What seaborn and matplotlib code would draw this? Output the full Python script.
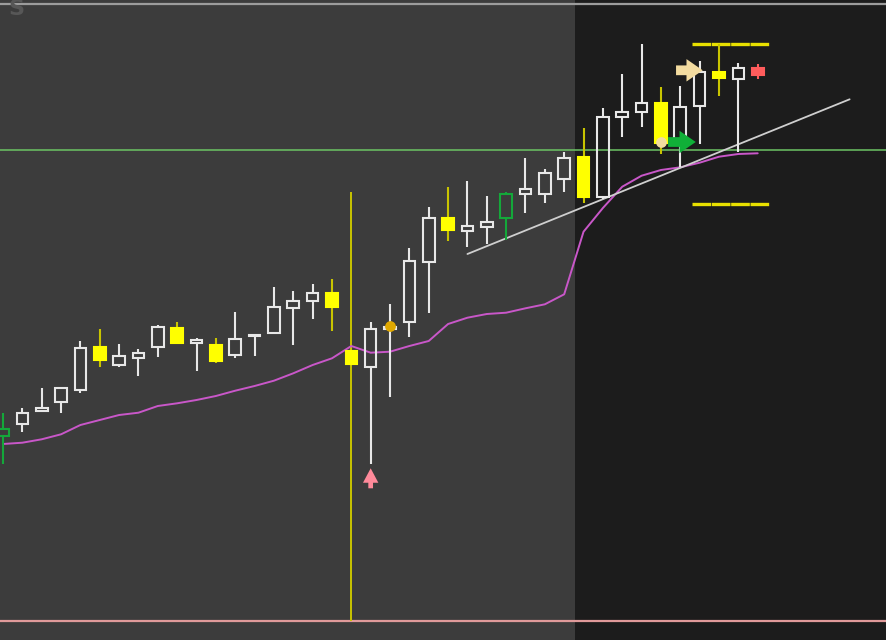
import matplotlib
matplotlib.use("Agg")
import matplotlib.pyplot as plt
import seaborn as sns
import pandas as pd

# OHLC candles (arbitrary price units)
opens = [20.43, 21.57, 22.93, 23.77, 25.03, 29.33, 27.53, 28.17, 29.27, 31.23,
         29.67, 29.47, 28.53, 30.40, 30.67, 33.17, 33.90, 34.73, 28.90, 27.27,
         31.07, 31.77, 37.77, 42.23, 40.93, 41.27, 42.17, 44.57, 44.57, 46.07,
         48.33, 44.33, 52.27, 52.83, 53.73, 49.70, 53.40, 56.83, 56.07, 57.17]
highs = [22.70, 23.23, 25.23, 25.33, 29.90, 31.07, 29.57, 29.07, 31.50, 31.83,
         30.23, 30.23, 32.83, 30.50, 35.33, 34.93, 35.60, 36.07, 29.20, 31.77,
         33.57, 39.17, 43.27, 45.33, 45.93, 44.43, 44.77, 48.17, 47.07, 48.80,
         51.17, 53.17, 56.57, 59.57, 55.33, 55.40, 57.93, 59.57, 57.67, 57.57]
lows = [17.60, 20.80, 22.93, 22.67, 24.67, 27.27, 27.27, 26.40, 28.27, 29.67,
        26.93, 27.67, 28.17, 28.40, 30.67, 29.50, 32.07, 30.90, 27.40, 17.60,
        24.33, 30.33, 32.67, 39.93, 39.27, 39.57, 40.00, 42.67, 43.67, 44.83,
        43.67, 44.10, 50.33, 51.33, 48.60, 47.33, 49.60, 54.43, 48.83, 56.07]
closes = [21.07, 22.67, 23.23, 25.17, 29.17, 28.00, 28.40, 28.70, 31.33, 29.67,
          29.97, 27.93, 30.07, 30.50, 33.33, 33.93, 34.73, 33.27, 27.57, 31.07,
          31.33, 37.93, 42.17, 41.00, 41.43, 41.83, 44.57, 45.07, 46.67, 48.17,
          44.30, 52.27, 52.83, 53.67, 49.67, 53.33, 56.83, 56.17, 57.17, 56.50]
# moving average line
ma = [19.60, 19.73, 20.07, 20.57, 21.50, 22.00, 22.50, 22.73, 23.40, 23.67,
      24.00, 24.40, 24.93, 25.40, 25.93, 26.67, 27.50, 28.17, 29.40, 28.73,
      28.83, 29.40, 29.90, 31.60, 32.23, 32.60, 32.73, 33.17, 33.57, 34.57,
      40.83, 43.20, 45.33, 46.43, 47.00, 47.27, 47.73, 48.33, 48.60, 48.67]
# candles painted with a signal colour
green_bars = [0, 26]
red_bars = [39]

# drawing objects
trend_x = [24.0, 43.75]
trend_y = [38.6, 54.07]
green_level = 49.0
pink_level = 1.9
top_level = 63.65
box_top = 59.57
box_bottom = 43.57
box_x = [35.6, 39.6]
signal_bar = 18
signal_top = 44.83
session_start = 29.56

# markers: (bar, price)
orange_dot = (20, 31.4)
pale_dot = (34, 49.83)
up_arrow = (19, 15.17, 17.17)          # bar, tail price, tip price
pale_arrow = (34.78, 36.16, 56.97)     # tail bar, tip bar, price
green_arrow = (34.37, 35.80, 49.80)

df = pd.DataFrame({"bar": range(len(opens)), "open": opens, "high": highs,
                   "low": lows, "close": closes, "ma": ma})

BG_LEFT = "#3c3c3c"
BG_RIGHT = "#1c1c1c"

sns.set_style("dark", {"axes.facecolor": BG_LEFT, "figure.facecolor": BG_LEFT})
fig = plt.figure(figsize=(8.86, 6.40), dpi=100)
ax = fig.add_axes([0, 0, 1, 1])
ax.set_facecolor(BG_LEFT)

ax.set_xlim(-0.155, 45.63)
ax.set_ylim(0, 64)

# darker right-hand session
ax.axvspan(session_start, 46, color=BG_RIGHT, zorder=0, lw=0)

# horizontal levels
ax.axhline(top_level, color="#9c9c9c", lw=1.6, zorder=1)
ax.axhline(green_level, color="#6cc464", lw=1.1, zorder=1)
ax.axhline(pink_level, color="#e09a9a", lw=1.6, zorder=1)

# vertical signal line
ax.vlines(signal_bar, pink_level, signal_top, color="#c8c400", lw=1.4, zorder=2)

# moving average
sns.lineplot(data=df, x="bar", y="ma", ax=ax, color="#c957c9", lw=1.4, zorder=3)

# trendline
ax.plot(trend_x, trend_y, color="#cfcfcf", lw=1.3, zorder=3)

# box levels, nearly solid with small breaks
ax.hlines([box_top, box_bottom], box_x[0], box_x[1], color="#e8e000", lw=2.4,
          linestyles=(0, (5.6, 0.2)), zorder=3)

# candles
width = 0.6
for i, r in df.iterrows():
    up = r["close"] >= r["open"]
    top = max(r["open"], r["close"])
    bot = min(r["open"], r["close"])
    h = max(top - bot, 0.15)
    if i in green_bars:
        edge, face, wick = "#14a83a", "none", "#14a83a"
    elif i in red_bars:
        edge, face, wick = "#ff5c5c", "#ff5c5c", "#ff5c5c"
    elif up:
        edge, face, wick = "#e8e8e8", "none", "#e8e8e8"
    else:
        edge, face, wick = "#ffff00", "#ffff00", "#c8c400"
    ax.vlines(i, top, r["high"], color=wick, lw=1.5, zorder=4)
    ax.vlines(i, r["low"], bot, color=wick, lw=1.5, zorder=4)
    ax.bar(i, h, bottom=bot, width=width, facecolor=face, edgecolor=edge,
           lw=1.5, zorder=5)

# markers and arrows
ax.scatter([orange_dot[0]], [orange_dot[1]], s=60, color="#e0a800", zorder=6, lw=0)
ax.scatter([pale_dot[0]], [pale_dot[1]], s=60, color="#f3dca0", zorder=6, lw=0)
ax.annotate("", xy=(up_arrow[0], up_arrow[2]), xytext=(up_arrow[0], up_arrow[1]),
            arrowprops=dict(arrowstyle="simple,head_length=0.8,head_width=0.85,tail_width=0.26",
                            mutation_scale=13, color="#ff8a9a", lw=0,
                            shrinkA=0, shrinkB=0), zorder=6)
side_style = "simple,head_length=0.45,head_width=0.62,tail_width=0.27"
ax.annotate("", xy=(pale_arrow[1], pale_arrow[2]), xytext=(pale_arrow[0], pale_arrow[2]),
            arrowprops=dict(arrowstyle=side_style, mutation_scale=26,
                            color="#f3dca0", lw=0, shrinkA=0, shrinkB=0), zorder=6)
ax.annotate("", xy=(green_arrow[1], green_arrow[2]), xytext=(green_arrow[0], green_arrow[2]),
            arrowprops=dict(arrowstyle=side_style, mutation_scale=26,
                            color="#10b038", lw=0, shrinkA=0, shrinkB=0), zorder=6)

# faint watermark in the corner
ax.text(0.67, 63.1, "S", color="#575757", fontsize=16, fontweight="bold",
        ha="center", va="center", zorder=1)

ax.set_xlabel("")
ax.set_ylabel("")
ax.set_xticks([])
ax.set_yticks([])
for s in ax.spines.values():
    s.set_visible(False)

fig.savefig("out.png", dpi=100, facecolor=BG_LEFT)
